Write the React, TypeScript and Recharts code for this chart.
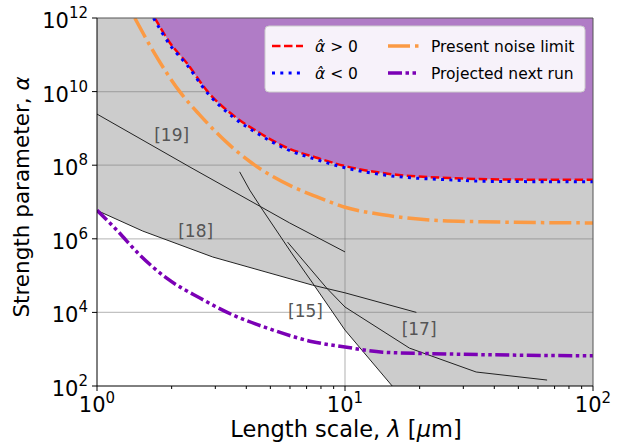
import React from 'react'
import { ComposedChart, Area, Line, XAxis, YAxis, ReferenceLine, ReferenceDot } from 'recharts'

const FONT = '"DejaVu Sans", sans-serif'
const TOP = 1e12

// axes
const xDomain = [1, 100]
const yDomain = [1e2, 1e12]
const xMajor = [1, 10, 100]
const xMinor = [2, 3, 4, 5, 6, 7, 8, 9, 20, 30, 40, 50, 60, 70, 80, 90]
const yMajor = [1e2, 1e4, 1e6, 1e8, 1e10, 1e12]
const yGrid = [1e4, 1e6, 1e8, 1e10]
const xGrid = [10]

// [lambda (um), alpha]
const alphaPos = [
  [1.71, 1e12], [1.97, 2.1e11], [2.3, 6.0e10], [2.8, 9.8e9], [3.53, 2.3e9], [4.53, 7.5e8],
  [5.82, 3.0e8], [7.68, 1.6e8], [10, 9.5e7], [15.1, 5.8e7], [26.4, 4.5e7], [41.9, 4.1e7], [100, 4.0e7],
]
const alphaNeg = [
  [1.69, 1e12], [1.97, 1.85e11], [2.3, 5.4e10], [2.8, 8.8e9], [3.53, 2.05e9], [4.53, 6.7e8],
  [5.82, 2.7e8], [7.68, 1.42e8], [10, 8.5e7], [15.1, 5.2e7], [26.4, 4.0e7], [41.9, 3.6e7], [100, 3.55e7],
]
const noiseLimit = [
  [1.42, 1e12], [1.66, 1.5e11], [2.16, 9.8e9], [2.6, 2.3e9], [3.43, 3.5e8], [4.21, 1.15e8],
  [6.15, 2.6e7], [7.67, 1.4e7], [10, 7.2e6], [14.2, 4.5e6], [22.5, 3.2e6], [35.7, 2.9e6], [100, 2.7e6],
]
const nextRun = [
  [1, 6.0e6], [1.2, 1.74e6], [1.49, 3.6e5], [1.91, 8.5e4], [2.6, 2.45e4], [3.53, 8.5e3],
  [4.83, 3.8e3], [7.4, 1.6e3], [10, 1.15e3], [14.2, 830], [26.4, 740], [100, 660],
]

// previous experiments
const ref19 = [[1, 2.45e9], [2.37, 8.9e7], [5.98, 2.7e6], [10, 4.4e5]]
const ref18 = [[1, 5.9e6], [1.53, 1.62e6], [2.93, 3.2e5], [7.4, 5.5e4], [10, 3.4e4], [19.4, 1.0e4]]
const ref15 = [[3.76, 6.6e7], [4.13, 2.1e7], [4.66, 6.0e6], [6.09, 4.1e5], [7.4, 6.3e4], [10, 3.3e3], [15.5, 1e2]]
const ref17 = [[5.87, 8.1e5], [8.43, 4.6e4], [10, 1.4e4], [18.2, 1.07e3], [33.8, 240], [65.3, 145]]

// lower edge of excluded (grey) region
const excluded = [[1, 5.9e6], [1.53, 1.62e6], [2.93, 3.2e5], [7.53, 5.4e4], [10, 3.3e3], [15.5, 1e2], [100, 1e2]]

const refTags = ['[19]', '[18]', '[15]', '[17]']
const refTagAt = [[2.0, 6.6e8], [2.5, 1.6e6], [6.93, 1.1e4], [19.9, 3.5e3]]

const toPts = (arr: number[][]) => arr.map(([x, y]) => ({ x, y }))
const toRange = (d: any) => [d.y, TOP]

function XTick(props: any) {
  const { x, y, payload } = props
  const v = payload.value
  const major = xMajor.includes(v)
  return (
    <g>
      <line x1={x} x2={x} y1={y} y2={y + (major ? 5 : 3)} stroke="#000" strokeWidth={1} />
      {major && (
        <text x={x} y={y + 26} textAnchor="middle" fontFamily={FONT} fontSize={21} fill="#000">
          <tspan>10</tspan>
          <tspan dy={-9} fontSize={15}>{Math.round(Math.log10(v))}</tspan>
        </text>
      )}
    </g>
  )
}

function YTick(props: any) {
  const { x, y, payload } = props
  return (
    <text x={x} y={y + 10} textAnchor="end" fontFamily={FONT} fontSize={21} fill="#000">
      <tspan>10</tspan>
      <tspan dy={-10} fontSize={15}>{Math.round(Math.log10(payload.value))}</tspan>
    </text>
  )
}

const XLabel = () => (
  <text x={346} y={437} textAnchor="middle" fontFamily={FONT} fontSize={22.5} fill="#000">
    Length scale, <tspan fontStyle="italic">λ</tspan> [<tspan fontStyle="italic">μ</tspan>m]
  </text>
)

const YLabel = () => (
  <text transform="translate(29,197) rotate(-90)" textAnchor="middle" fontFamily={FONT} fontSize={21.5} fill="#000">
    Strength parameter, <tspan fontStyle="italic">α</tspan>
  </text>
)

const legendItems = [
  { label: 'pos', stroke: '#ff0000', dash: '8.5 3.5', width: 2.5, col: 0, row: 0 },
  { label: 'neg', stroke: '#0000ff', dash: '3 5.3', width: 3, col: 0, row: 1 },
  { label: 'Present noise limit', stroke: '#fb9a44', dash: '22 5 3.5 5', width: 3.5, col: 1, row: 0 },
  { label: 'Projected next run', stroke: '#7b00b5', dash: '14 3.5 3.5 3.5 3.5 3.5', width: 3.5, col: 1, row: 1 },
]

function ChartLegend() {
  return (
    <svg width={322} height={68} style={{ position: 'absolute', left: 264, top: 25 }}>
      <rect x={1} y={1} width={320} height={66} rx={4} fill="#fff" fillOpacity={0.9} stroke="#cccccc" />
      {legendItems.map((it) => {
        const x0 = it.col === 0 ? 8 : 124
        const ly = it.row === 0 ? 21 : 48
        return (
          <g key={it.label}>
            <line x1={x0} x2={x0 + 31} y1={ly} y2={ly} stroke={it.stroke} strokeWidth={it.width} strokeDasharray={it.dash} />
            <text x={x0 + 43} y={ly + 6} fontFamily={FONT} fontSize={15.5} fill="#000">
              {it.label === 'pos' || it.label === 'neg' ? (
                <>
                  <tspan fontStyle="italic">α̂</tspan>
                  {it.label === 'pos' ? ' > 0' : ' < 0'}
                </>
              ) : (
                it.label
              )}
            </text>
          </g>
        )
      })}
    </svg>
  )
}

export default function App() {
  return (
    <div style={{ position: 'relative', width: 624, height: 443, fontFamily: FONT }}>
      <style>{'body { margin: 0; }'}</style>
      <ComposedChart width={624} height={443} margin={{ top: 18, right: 31, bottom: 0, left: 0 }}>
        <XAxis
          dataKey="x"
          type="number"
          scale="log"
          domain={xDomain}
          allowDataOverflow
          ticks={[...xMajor, ...xMinor]}
          interval={0}
          tickSize={0}
          tickMargin={0}
          tickLine={false}
          tick={(p: any) => <XTick {...p} />}
          axisLine={{ stroke: '#000', strokeWidth: 1 }}
          height={57}
          label={XLabel}
        />
        <YAxis
          type="number"
          scale="log"
          domain={yDomain}
          allowDataOverflow
          ticks={yMajor}
          interval={0}
          tickSize={5}
          tickMargin={4}
          tick={(p: any) => <YTick {...p} />}
          tickLine={{ stroke: '#000' }}
          axisLine={{ stroke: '#000', strokeWidth: 1 }}
          width={97}
          label={YLabel}
        />

        <Area data={toPts(excluded)} dataKey={toRange} type="linear" fill="#cccccc" fillOpacity={1} stroke="none" isAnimationActive={false} zIndex={100} />
        {yGrid.map((v) => (
          <ReferenceLine key={'y' + v} y={v} stroke="#777" strokeOpacity={0.45} strokeWidth={1.3} zIndex={150} />
        ))}
        {xGrid.map((v) => (
          <ReferenceLine key={'x' + v} x={v} stroke="#777" strokeOpacity={0.45} strokeWidth={1.3} zIndex={150} />
        ))}
        <Area data={toPts(alphaPos)} dataKey={toRange} type="monotone" fill="#b07cc6" fillOpacity={1} stroke="none" isAnimationActive={false} zIndex={200} />

        {[ref19, ref18, ref15, ref17].map((r, i) => (
          <Line key={'ref' + i} data={toPts(r)} dataKey="y" type="linear" stroke="#222" strokeWidth={1} dot={false} isAnimationActive={false} />
        ))}
        <Line data={toPts(nextRun)} dataKey="y" type="monotone" stroke="#7b00b5" strokeWidth={3.5} strokeDasharray="14 3.5 3.5 3.5 3.5 3.5" dot={false} isAnimationActive={false} />
        <Line data={toPts(noiseLimit)} dataKey="y" type="monotone" stroke="#fb9a44" strokeWidth={3.5} strokeDasharray="22 5 3.5 5" dot={false} isAnimationActive={false} />
        <Line data={toPts(alphaPos)} dataKey="y" type="monotone" stroke="#ff0000" strokeWidth={2.5} strokeDasharray="8.5 3.5" dot={false} isAnimationActive={false} />
        <Line data={toPts(alphaNeg)} dataKey="y" type="monotone" stroke="#0000ff" strokeWidth={3} strokeDasharray="3 5.3" dot={false} isAnimationActive={false} />

        {refTags.map((t, i) => (
          <ReferenceDot
            key={t}
            x={refTagAt[i][0]}
            y={refTagAt[i][1]}
            r={0}
            fill="none"
            stroke="none"
            label={{ value: t, position: 'center', fill: '#555', fontSize: 17, fontFamily: FONT }}
          />
        ))}
        <ReferenceLine y={TOP} stroke="#555" strokeWidth={1} />
        <ReferenceLine x={100} stroke="#555" strokeWidth={1} />
      </ComposedChart>
      <ChartLegend />
    </div>
  )
}
